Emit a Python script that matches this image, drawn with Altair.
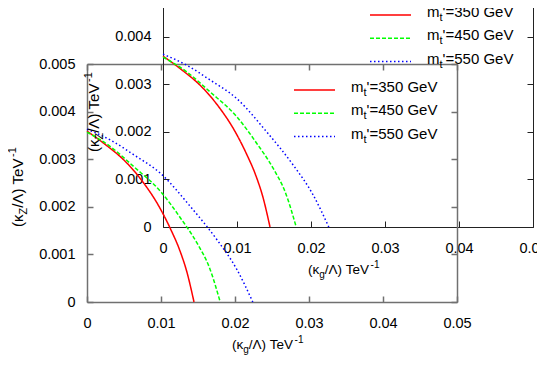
import altair as alt
import pandas as pd

# ---- data ----
series = ["350", "450", "550"]
colors = ["#ff0000", "#00ff00", "#0000ff"]
dashes = [[1, 0], [4, 2], [1.5, 2.5]]

red_x = [0.0, 0.0023, 0.00545, 0.0077, 0.0095, 0.0113, 0.0125, 0.0135, 0.01446]
red_y = [0.00359, 0.00333, 0.00291, 0.00249, 0.00207, 0.00153, 0.0011, 0.00063, 0.0]
green_x = [0.0, 0.0032, 0.00635, 0.00995, 0.0127, 0.0149, 0.0166, 0.018]
green_y = [0.00357, 0.00326, 0.00284, 0.00232, 0.00175, 0.00123, 0.0007, 0.0]
blue_x = [0.0, 0.0032, 0.00635, 0.00995, 0.014, 0.0176, 0.0203, 0.0224]
blue_y = [0.00363, 0.0034, 0.00309, 0.0027, 0.002, 0.0013, 0.00067, 0.0]

legend_rest = ["'=350 GeV", "'=450 GeV", "'=550 GeV"]
x_ticks = [0, 0.01, 0.02, 0.03, 0.04, 0.05]
y_ticks = [0, 0.001, 0.002, 0.003, 0.004, 0.005]

rows = []
for s, xs, ys in zip(series, [red_x, green_x, blue_x], [red_y, green_y, blue_y]):
    for i, (a, b) in enumerate(zip(xs, ys)):
        rows.append({"mass": s, "order": i, "kg": a, "kz": b})
curves = pd.DataFrame(rows)
legend_df = pd.DataFrame({"mass": series, "row": [0, 1, 2], "rest": legend_rest})
one = pd.DataFrame({"a": [0]})

W, H = 370, 238
FONT = "Liberation Sans"


def txt(s, x, y, size, angle=0):
    m = alt.Chart(one).mark_text(text=s, align="left", baseline="alphabetic",
                                 font=FONT, fontSize=size, color="black", angle=angle)
    return m.encode(x=alt.value(x), y=alt.value(y))


def plot_layers(dx, dy, fcol, fw):
    xs = alt.Scale(domain=[0, 0.05], range=[dx, dx + W], nice=False, zero=False)
    ys = alt.Scale(domain=[0, 0.005], range=[H + dy, dy], nice=False, zero=False)
    col = alt.Color("mass:N", scale=alt.Scale(domain=series, range=colors), legend=None)
    dsh = alt.StrokeDash("mass:N", scale=alt.Scale(domain=series, range=dashes), legend=None)
    lab = dict(labelFont=FONT, labelFontSize=14.5, labelColor="black", labelFlush=False,
               labelOverlap=False, grid=False, title=None, ticks=False, tickSize=0,
               domainColor=fcol, domainWidth=fw)
    tk = dict(labels=False, grid=False, title=None, ticks=True, tickSize=6,
              tickColor=fcol, tickWidth=fw, domainColor=fcol, domainWidth=fw)
    L = []
    L.append(alt.Chart(curves).mark_line(strokeWidth=1.5, interpolate="monotone").encode(
        x=alt.X("kg:Q", scale=xs, axis=alt.Axis(orient="bottom", offset=dy, values=x_ticks,
                                                format="~g", labelPadding=14, **lab)),
        y=alt.Y("kz:Q", scale=ys, axis=alt.Axis(orient="left", offset=-dx, values=y_ticks,
                                                format="~g", labelPadding=12, **lab)),
        color=col, strokeDash=dsh, order="order:Q"))
    L.append(alt.Chart(curves).mark_point(opacity=0, size=1).encode(
        x=alt.X("kg:Q", scale=xs, axis=alt.Axis(orient="top", offset=-(H + dy), values=x_ticks,
                                                domain=False, **tk)),
        y=alt.Y("kz:Q", scale=ys, axis=alt.Axis(orient="right", offset=dx - W, values=y_ticks,
                                                domain=False, **tk))))
    L.append(alt.Chart(curves).mark_point(opacity=0, size=1).encode(
        x=alt.X("kg:Q", scale=xs, axis=alt.Axis(orient="bottom", offset=dy - H, values=x_ticks,
                                                domain=True, **tk)),
        y=alt.Y("kz:Q", scale=ys, axis=alt.Axis(orient="left", offset=-(dx + W), values=y_ticks,
                                                domain=True, **tk))))
    # legend
    ty = alt.Scale(domain=[0, 2], range=[28 + dy, 74.6 + dy])
    ry = alt.Scale(domain=[0, 2], range=[26 + dy, 72.6 + dy])
    L.append(alt.Chart(legend_df).mark_rule(strokeWidth=1.5).encode(
        x=alt.value(207 + dx), x2=alt.value(248 + dx),
        y=alt.Y("row:Q", scale=ry, axis=None), color=col, strokeDash=dsh))
    L.append(alt.Chart(legend_df).mark_text(text="m", align="left", baseline="alphabetic",
                                            font=FONT, fontSize=15, color="black").encode(
        x=alt.value(264 + dx), y=alt.Y("row:Q", scale=ty, axis=None)))
    L.append(alt.Chart(legend_df).mark_text(text="t", align="left", baseline="alphabetic",
                                            font=FONT, fontSize=11, color="black", dy=4).encode(
        x=alt.value(276.5 + dx), y=alt.Y("row:Q", scale=ty, axis=None)))
    L.append(alt.Chart(legend_df).mark_text(align="left", baseline="alphabetic",
                                            font=FONT, fontSize=15, color="black").encode(
        x=alt.value(279.6 + dx), y=alt.Y("row:Q", scale=ty, axis=None), text="rest:N"))
    # x title
    bx, by = 145 + dx, 285 + dy
    L += [txt("(\u03ba", bx, by, 13.5), txt("g", bx + 11.2, by + 3.5, 10),
          txt("/\u039b) TeV", bx + 16.8, by, 13.5), txt("-1", bx + 62.6, by - 6, 10)]
    # y title (rotated)
    cx, cy = -64.5 + dx, 163 + dy
    L += [txt("(\u03ba", cx, cy, 15, 270), txt("Z", cx + 4, cy - 12.5, 11, 270),
          txt("/\u039b) TeV", cx, cy - 19.2, 15, 270), txt("-1", cx - 6.5, cy - 70.1, 11, 270)]
    return L


layers = plot_layers(0, 0, "#707070", 1.5) + plot_layers(76, -75, "#222222", 1)

chart = alt.layer(*layers).resolve_scale(x="independent", y="independent").properties(
    width=W, height=H,
    autosize=alt.AutoSizeParams(type="none"),
    padding={"left": 79, "top": 56, "right": 80, "bottom": 72},
).configure_view(stroke="transparent")

chart.save("out.html", embed_options={"renderer": "svg", "actions": False})
